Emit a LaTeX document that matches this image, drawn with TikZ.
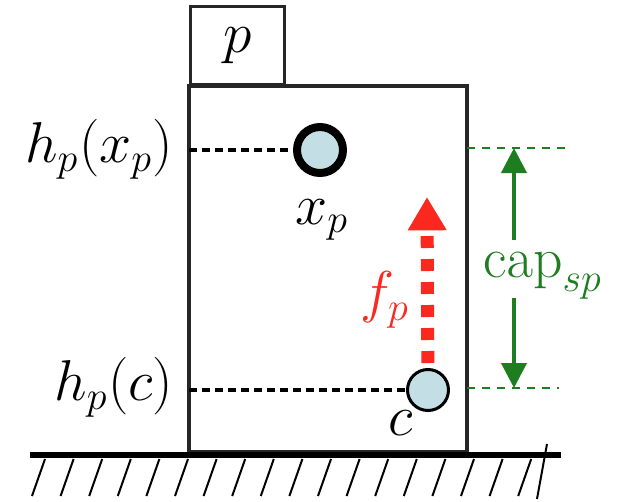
\documentclass[tikz,border=0pt]{standalone}
\usetikzlibrary{arrows.meta,positioning}
\definecolor{ballblue}{RGB}{196,222,230}
\definecolor{forcered}{RGB}{250,40,30}
\definecolor{capgreen}{RGB}{30,125,30}
\tikzset{
  fig/.style={x=0.3pt,y=-0.3pt,font=\fontsize{18.5}{22}\selectfont},
  wall/.style={draw=black!85,line width=1pt},
  level/.style={line width=1pt,dash pattern=on 2.4pt off 1.5pt},
  caplevel/.style={capgreen,line width=0.5pt,dash pattern=on 2.4pt off 2.1pt},
  ball/.style={circle,draw,fill=ballblue,inner sep=0pt},
  hatch/.style={line width=0.6pt},
  caparrow/.style={capgreen,line width=1.2pt,-{Triangle[width=7.5pt,length=7.5pt]}},
}
\begin{document}
\begin{tikzpicture}[fig]
  \useasboundingbox (0,0) rectangle (619,502);
  % block and its tag
  \draw[wall] (189,86) rectangle (467,452);
  \node[wall,minimum width=28.2pt,minimum height=23.4pt,anchor=south west] (tag) at (189,86) {$p$};
  % ground
  \draw[line width=2pt] (30,455) -- (561,455);
  \foreach \i in {0,...,17}
    \draw[hatch] ({45+28.6*\i},459) -- ++(-13,37);
  \draw[hatch] (547,444) -- (537,499);
  % points
  \node[ball,line width=2.4pt,minimum size=13.8pt] (xp) at (320,150) {};
  \node[ball,line width=0.9pt,minimum size=12.3pt] (c) at (428,390) {};
  \node (xplbl) at (322,220) {$x_p$};
  \node (clbl) at (401,423) {$c$};
  % heights
  \coordinate (lxp) at (189,150);
  \coordinate (lc) at (189,390);
  \node[anchor=east] (hxp) at (185,149) {$h_p(x_p)$};
  \node[anchor=east] (hc) at (185,387) {$h_p(c)$};
  \draw[level] (lxp) -- (xp);
  \draw[level] (lc) -- (c);
  % force
  \coordinate (ftip) at (427,197);
  \draw[forcered,line width=3.9pt,dash pattern=on 3.6pt off 3.3pt,shorten <=1.5pt,
        -{Triangle[width=11pt,length=10pt]}] (c) -- (ftip);
  \node[forcered] (fp) at (385,300) {$f_p$};
  % capacity
  \coordinate (gtop) at (467,148);
  \coordinate (gbot) at (467,388);
  \draw[caplevel] (gtop) -- ++(99,0);
  \draw[caplevel] (gbot) -- ++(92,0);
  \coordinate (captop) at (514,148);
  \coordinate (capbot) at (514,388);
  \node[capgreen] (cap) at (543,276) {$\mathrm{cap}_{sp}$};
  \draw[caparrow] (514,240) -- (captop);
  \draw[caparrow] (514,298) -- (capbot);
\end{tikzpicture}
\end{document}
